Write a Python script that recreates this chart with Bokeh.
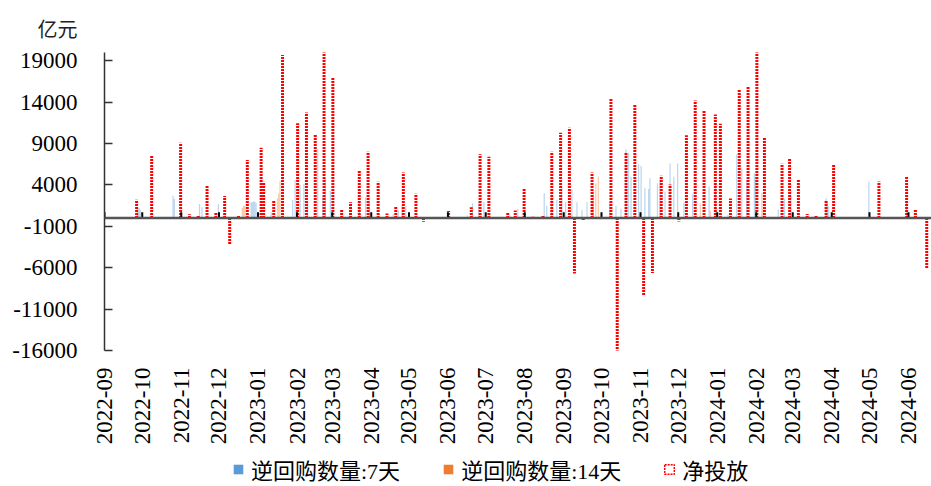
import math
import pandas as pd
from bokeh.plotting import figure
from bokeh.layouts import column
from bokeh.models import (Range1d, FixedTicker, DatetimeTickFormatter, NumeralTickFormatter,
                          Span, Legend, LegendItem)
from bokeh.embed import file_html
from bokeh.resources import INLINE

# ---------------- data ----------------
months = ["2022-09", "2022-10", "2022-11", "2022-12", "2023-01", "2023-02", "2023-03",
          "2023-04", "2023-05", "2023-06", "2023-07", "2023-08", "2023-09", "2023-10",
          "2023-11", "2023-12", "2024-01", "2024-02", "2024-03", "2024-04", "2024-05",
          "2024-06"]
y_ticks = [-16000, -11000, -6000, -1000, 4000, 9000, 14000, 19000]

net_dates = ["2022-09-05", "2022-09-19", "2022-09-26", "2022-10-08", "2022-10-17", "2022-10-24",
             "2022-10-31", "2022-11-07", "2022-11-14", "2022-11-21", "2022-11-28", "2022-12-05",
             "2022-12-09", "2022-12-16", "2022-12-23", "2023-01-03", "2023-01-05", "2023-01-13",
             "2023-01-20", "2023-02-01", "2023-02-08", "2023-02-15", "2023-02-22", "2023-03-01",
             "2023-03-08", "2023-03-15", "2023-03-22", "2023-03-29", "2023-04-06", "2023-04-13",
             "2023-04-20", "2023-04-26", "2023-05-06", "2023-05-12", "2023-05-19", "2023-05-26",
             "2023-06-01", "2023-06-08", "2023-06-19", "2023-06-26", "2023-07-03", "2023-07-11",
             "2023-07-18", "2023-07-24", "2023-07-31", "2023-08-07", "2023-08-15", "2023-08-22",
             "2023-08-29", "2023-09-05", "2023-09-09", "2023-09-16", "2023-09-23", "2023-10-08",
             "2023-10-13", "2023-10-20", "2023-10-27", "2023-11-03", "2023-11-10", "2023-11-17",
             "2023-11-24", "2023-12-01", "2023-12-07", "2023-12-14", "2023-12-21", "2023-12-30",
             "2024-01-03", "2024-01-11", "2024-01-18", "2024-01-25", "2024-02-01", "2024-02-07",
             "2024-02-21", "2024-02-27", "2024-03-05", "2024-03-12", "2024-03-19", "2024-03-27",
             "2024-04-02", "2024-04-10", "2024-04-16", "2024-04-24", "2024-04-30", "2024-05-08",
             "2024-05-15", "2024-05-21", "2024-05-30", "2024-06-06", "2024-06-15"]
net_values = [100, 100, 2200, 7600, 100, 100, 9100, 450, 350, 4000, 700, 2650,
              -3150, 350, 7000, 8500, 4400, 2100, 19700, 11450, 12750, 10050, 20500, 16950,
              1100, 1900, 5700, 8000, 4400, 550, 1400, 5500, 2950, -450, -100, 100,
              850, 80, 1300, 7700, 7400, 60, 650, 900, 3600, 150, 250, 8000,
              10300, 10900, -6700, -250, 5500, 14400, -16500, 7900, 13700, -9400, -6650, 5100,
              4050, -430, 10000, 14200, 13000, 12500, 11400, 2350, 15550, 15900, 20500, 9750,
              6550, 7250, 4700, 500, 330, 2050, 6520, 60, 60, 60, 60, 4430,
              60, 60, 5040, 980, -6100]

r7_dates = ["2022-09-27", "2022-09-28", "2022-09-29", "2022-10-25", "2022-10-26", "2022-11-15",
            "2022-11-17", "2022-11-30", "2022-12-26", "2022-12-27", "2022-12-28", "2022-12-29",
            "2022-12-30", "2023-01-11", "2023-01-28", "2023-01-30", "2023-02-03", "2023-02-06",
            "2023-02-09", "2023-02-17", "2023-02-21", "2023-02-23", "2023-02-27", "2023-03-14",
            "2023-03-22", "2023-03-27", "2023-03-30", "2023-04-18", "2023-04-22", "2023-04-25",
            "2023-04-28", "2023-05-31", "2023-06-16", "2023-06-20", "2023-06-25", "2023-06-29",
            "2023-07-20", "2023-07-26", "2023-08-16", "2023-08-18", "2023-08-22", "2023-08-26",
            "2023-08-30", "2023-09-02", "2023-09-07", "2023-09-11", "2023-09-15", "2023-09-19",
            "2023-10-07", "2023-10-12", "2023-10-16", "2023-10-20", "2023-10-22", "2023-10-24",
            "2023-10-30", "2023-11-01", "2023-11-04", "2023-11-07", "2023-11-08", "2023-11-14",
            "2023-11-16", "2023-11-20", "2023-11-24", "2023-11-27", "2023-11-30", "2023-12-05",
            "2023-12-12", "2023-12-25", "2023-12-30", "2024-01-09", "2024-01-16", "2024-01-20",
            "2024-01-24", "2024-01-30", "2024-01-31", "2024-02-18", "2024-02-23", "2024-02-28",
            "2024-03-27", "2024-03-28", "2024-03-29", "2024-04-30", "2024-05-30", "2024-06-19"]
r7_values = [1300, 1200, 1000, 2700, 2300, 1700,
             1300, 1700, 1900, 1900, 2000, 2000,
             1800, 700, 2200, 4600, 4000, 4100,
             2000, 8300, 2600, 4800, 3300, 300,
             1800, 2500, 2000, 500, 900, 1500,
             1500, 800, 300, 1800, 2000, 1900,
             300, 1100, 3000, 1500, 3000, 2200,
             3800, 1900, 3500, 1900, 1000, 1900,
             1800, 1500, 1100, 8300, 7900, 5000,
             6500, 6300, 3600, 3500, 4800, 4200,
             4700, 3200, 6600, 5000, 6600, 1900,
             2900, 3800, 4200, 400, 7700, 6000,
             4600, 5400, 5000, 1000, 2400, 3200,
             2400, 2000, 1400, 4400, 2000, 800]

r14_dates = ["2022-09-27", "2022-12-19", "2022-12-20", "2022-12-21", "2023-01-16", "2023-01-17",
             "2023-01-18", "2023-09-23", "2023-09-24", "2023-09-26", "2023-09-28", "2023-12-18",
             "2023-12-26", "2024-02-05", "2024-02-06"]
r14_values = [700, 1200, 1500, 1500, 2400, 3000,
              4500, 2000, 3200, 4200, 5000, 1800,
              900, 3000, 1000]

label_r7 = "逆回购数量:7天"
label_r14 = "逆回购数量:14天"
label_net = "净投放"
unit_label = "亿元"

# ---------------- main figure ----------------
DAY = 86400000
HALF = pd.Timedelta(hours=12)
SERIF = "Liberation Serif, Noto Sans CJK SC"

month_ts = pd.to_datetime([m + "-01" for m in months])
net_x = pd.to_datetime(net_dates) + HALF
r7_x = pd.to_datetime(r7_dates) + HALF
r14_x = pd.to_datetime(r14_dates) + HALF

p = figure(width=931, height=455, x_axis_type="datetime", title=unit_label,
           output_backend="svg", toolbar_location=None,
           x_range=Range1d(month_ts[0], pd.Timestamp("2024-06-19 07:00")),
           y_range=Range1d(-16000, 20000),
           min_border_left=104, min_border_right=0, min_border_top=52, min_border_bottom=105)
p.outline_line_color = None
p.xgrid.visible = False
p.ygrid.visible = False

p.title.align = "left"
p.title.vertical_align = "top"
p.title.offset = -67
p.title.standoff = 16
p.title.text_font = "Noto Sans CJK SC"
p.title.text_font_size = "20px"
p.title.text_font_style = "normal"
p.title.text_color = "#222222"

# bars
p.vbar(x=r7_x, top=r7_values, bottom=0, width=DAY,
       fill_color="#5b9bd5", fill_alpha=0.4, line_color=None)
p.vbar(x=r14_x, top=r14_values, bottom=0, width=DAY,
       fill_color="#ed7d31", fill_alpha=0.4, line_color=None)
p.segment(x0=net_x, y0=0, x1=net_x, y1=net_values,
          line_color="#ff0000", line_width=3, line_dash="2 1")

# zero axis line and month tick marks
p.add_layout(Span(location=0, dimension="width", line_color="#555555", line_width=2.5))
p.segment(x0=month_ts, y0=0, x1=month_ts, y1=700, line_color="black", line_width=2)

# x axis
p.xaxis.ticker = FixedTicker(ticks=[int(t.value // 10**6) for t in month_ts])
fmt = "%Y-%m"
p.xaxis.formatter = DatetimeTickFormatter(microseconds=fmt, milliseconds=fmt, seconds=fmt,
                                          minsec=fmt, minutes=fmt, hourmin=fmt, hours=fmt,
                                          days=fmt, months=fmt, years=fmt)
p.xaxis.major_label_orientation = math.pi / 2
p.xaxis.axis_line_color = None
p.xaxis.major_tick_line_color = None
p.xaxis.minor_tick_line_color = None
p.xaxis.major_label_standoff = 11
p.xaxis.major_label_text_font = SERIF
p.xaxis.major_label_text_font_size = "23px"
p.xaxis.major_label_text_color = "#000000"

# y axis
p.yaxis.ticker = FixedTicker(ticks=y_ticks)
p.yaxis.formatter = NumeralTickFormatter(format="0")
p.yaxis.axis_line_color = "#333333"
p.yaxis.axis_line_width = 1.5
p.yaxis.major_tick_in = 8
p.yaxis.major_tick_out = 0
p.yaxis.major_tick_line_color = "#333333"
p.yaxis.major_tick_line_width = 1.5
p.yaxis.minor_tick_line_color = None
p.yaxis.major_label_standoff = 27
p.yaxis.major_label_text_font = SERIF
p.yaxis.major_label_text_font_size = "23px"
p.yaxis.major_label_text_color = "#000000"

# ---------------- legend strip ----------------
lp = figure(width=931, height=31, x_axis_type="datetime",
            output_backend="svg", toolbar_location=None,
            x_axis_location=None, y_axis_location=None,
            x_range=p.x_range, y_range=p.y_range,
            min_border=0)
lp.outline_line_color = None
lp.xgrid.visible = False
lp.ygrid.visible = False
zx = month_ts[:1]
lg7 = lp.vbar(x=zx, top=[0], bottom=[0], width=DAY, fill_color="#5b9bd5", line_color=None,
              visible=False)
lg14 = lp.vbar(x=zx, top=[0], bottom=[0], width=DAY, fill_color="#ed7d31", line_color=None,
               visible=False)
lgn = lp.vbar(x=zx, top=[0], bottom=[0], width=DAY, fill_color=None, line_color="#ff0000",
              line_width=1.5, line_dash="2 1", visible=False)
legend = Legend(items=[LegendItem(label=label_r7, renderers=[lg7]),
                       LegendItem(label=label_r14, renderers=[lg14]),
                       LegendItem(label=label_net, renderers=[lgn])],
                orientation="horizontal", location=(128, 1),
                border_line_color=None, background_fill_alpha=0,
                inactive_fill_alpha=0,
                label_text_font=SERIF, label_text_font_size="22px",
                label_text_color="#000000",
                glyph_width=12, glyph_height=12, spacing=42, label_standoff=7,
                padding=0, margin=0)
lp.add_layout(legend, "center")

layout = column(p, lp, spacing=0)
open("out.html", "w").write(file_html(layout, INLINE))
